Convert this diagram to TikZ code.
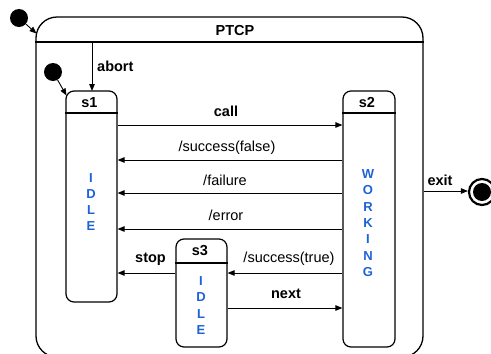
\documentclass[tikz,border=0pt]{standalone}
\usepackage{fontspec}
\setmainfont{Liberation Sans}
\usetikzlibrary{arrows.meta}
\definecolor{letterblue}{RGB}{30,98,215}
\begin{document}
\begin{tikzpicture}[x=1pt,y=-1pt,
  state/.style={draw, line width=1.2pt, rounded corners=8pt, inner sep=0pt},
  arr/.style={line width=0.9pt, -{Triangle[length=7pt,width=5.5pt]}},
  lbl/.style={font=\fontsize{14.5}{17}\selectfont\bfseries, inner sep=0pt},
  msg/.style={font=\fontsize{14.5}{17}\selectfont, inner sep=0pt},
  vword/.style={font=\fontsize{13}{16.3}\selectfont\bfseries, text=letterblue, align=center, inner sep=0pt},
  dot/.style={circle, fill, inner sep=0pt, minimum size=18pt}
]
\useasboundingbox (0,0) rectangle (491,354);

% composite state PTCP
\node[state, rounded corners=21pt, line width=1.3pt, minimum width=387pt, minimum height=340pt] (ptcp) at (229.5,187) {};
\draw[line width=1.2pt] (ptcp.west |- 0,42) -- (ptcp.east |- 0,42);
\node[lbl] (ptcptitle) at (235,30.5) {PTCP};

% substates
\node[state, minimum width=51pt, minimum height=211pt] (s1) at (91.5,196.5) {};
\draw[line width=1.2pt] (s1.west |- 0,113) -- (s1.east |- 0,113);
\node[lbl] (s1title) at (89.5,102.5) {s1};
\node[vword] (s1word) at (91,202) {I\\D\\L\\E};

\node[state, minimum width=52pt, minimum height=256pt] (s2) at (369,219) {};
\draw[line width=1.2pt] (s2.west |- 0,113) -- (s2.east |- 0,113);
\node[lbl] (s2title) at (367,102.5) {s2};
\node[vword] (s2word) at (368,223) {W\\O\\R\\K\\I\\N\\G};

\node[state, minimum width=51pt, minimum height=108pt] (s3) at (201.5,293) {};
\draw[line width=1.2pt] (s3.west |- 0,263) -- (s3.east |- 0,263);
\node[lbl] (s3title) at (200,251) {s3};
\node[vword] (s3word) at (201,305.5) {I\\D\\L\\E};

% initial and final pseudostates
\node[dot] (i1) at (19,18) {};
\coordinate (i1end) at (36.5,33.5);
\draw[arr] (i1) -- (i1end);
\node[dot] (i2) at (53,72) {};
\coordinate (i2end) at (66.5,95.5);
\draw[arr] (i2) -- (i2end);

\node[circle, draw, line width=2.2pt, minimum size=26pt, inner sep=0pt] (fin) at (482,192) {};
\node[dot] (findot) at (fin) {};

% transitions
\draw[arr] (92,42) -- (92,91) coordinate (abortend);
\node[lbl, anchor=west] (abortlbl) at (97,66) {abort};

\draw[arr] (s1.east |- 0,125) -- (s2.west |- 0,125);
\node[lbl] (calllbl) at (226,111.5) {call};

\draw[arr] (s2.west |- 0,160) -- (s1.east |- 0,160);
\node[msg] (sflbl) at (227,147.5) {/success(false)};

\draw[arr] (s2.west |- 0,193) -- (s1.east |- 0,193);
\node[msg] (faillbl) at (225,180) {/failure};

\draw[arr] (s2.west |- 0,229) -- (s1.east |- 0,229);
\node[msg] (errlbl) at (226,215) {/error};

\draw[arr] (s2.west |- 0,273) -- (s3.east |- 0,273);
\node[msg] (stlbl) at (289,259) {/success(true)};

\draw[arr] (s3.west |- 0,273) -- (s1.east |- 0,273);
\node[lbl] (stoplbl) at (150.5,259) {stop};

\draw[arr] (s3.east |- 0,308) -- (s2.west |- 0,308);
\node[lbl] (nextlbl) at (286,294) {next};

\draw[arr] (ptcp.east |- 0,191) -- (fin.west |- 0,191);
\node[lbl] (exitlbl) at (440,180) {exit};
\end{tikzpicture}
\end{document}
